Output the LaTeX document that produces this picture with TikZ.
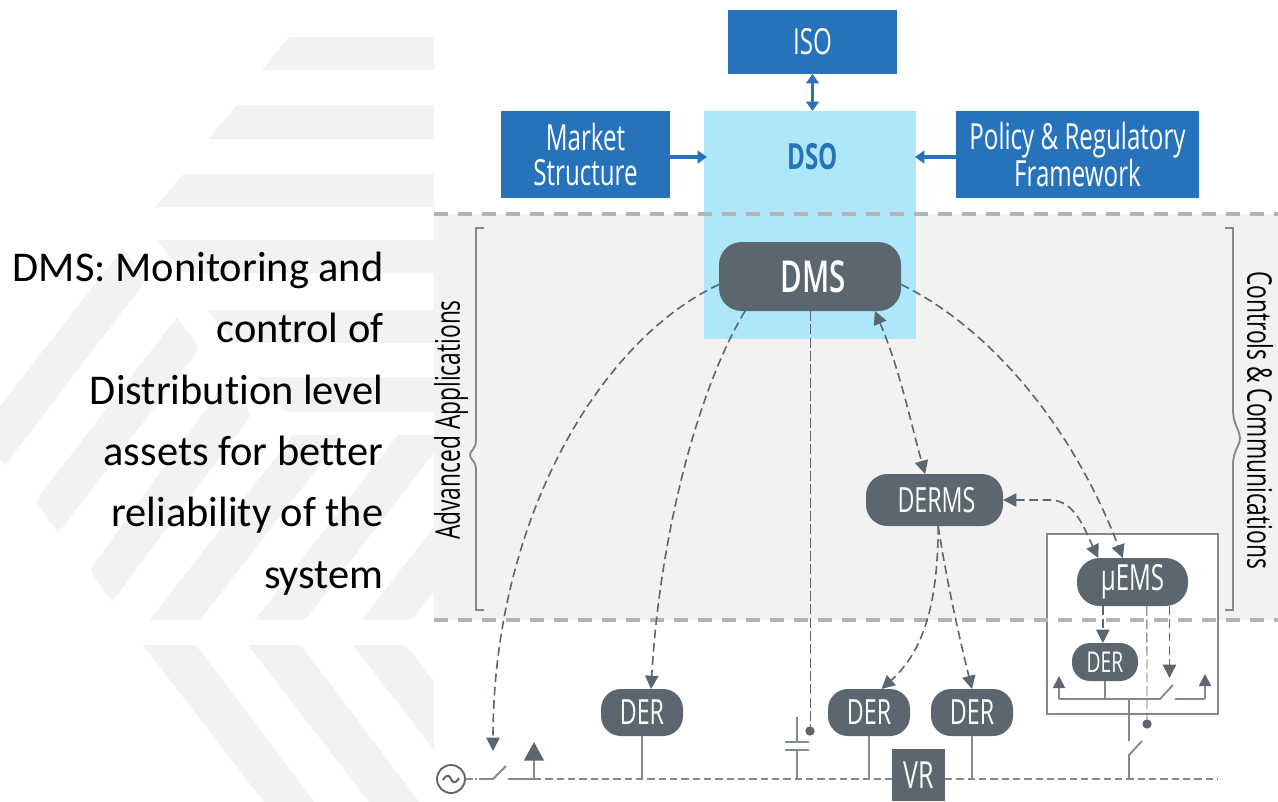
\documentclass[tikz,border=0pt]{standalone}
\usepackage{fontspec}
\usetikzlibrary{arrows.meta,calc}
\setmainfont{Open Sans}
\newfontfamily\leftfont[Ligatures=NoCommon]{Carlito}
\newfontfamily\cond[FakeStretch=0.67]{Open Sans}
\newfontfamily\condb[FakeStretch=0.67]{Open Sans Semibold}
\definecolor{slate}{HTML}{5C6670}
\definecolor{wire}{HTML}{7F8A93}
\definecolor{brand}{HTML}{2673BC}
\definecolor{sky}{HTML}{AEE7FA}
\definecolor{stripe}{HTML}{F2F2F2}
\definecolor{sep}{HTML}{B3B3B3}
\tikzset{
 x=0.75pt,y=-0.75pt,
 every node/.style={inner sep=0pt,outer sep=0pt},
 stripeshape/.style={fill=stripe,draw=none},
 bluebox/.style={fill=brand,draw=none,text=white,align=center,font=\cond\fontsize{27}{26}\selectfont},
 pill/.style={fill=slate,draw=none,text=white,align=center,font=\cond\fontsize{26}{26}\selectfont},
 bigpill/.style={pill,minimum width=136.5pt,minimum height=51.75pt,rounded corners=17pt,font=\condb\fontsize{33}{30}\selectfont},
 derpill/.style={pill,minimum width=61.5pt,minimum height=35.25pt,rounded corners=15pt},
 dashlink/.style={draw=slate,line width=1.2pt,dash pattern=on 6.5pt off 3.5pt,-{Triangle[length=10pt,width=10pt]}},
 duallink/.style={dashlink,{Triangle[length=10pt,width=10pt]}-{Triangle[length=10pt,width=10pt]}},
 thinlink/.style={draw=slate,line width=0.7pt,dash pattern=on 7.5pt off 2.5pt},
 bluelink/.style={draw=brand,line width=2.3pt,-{Triangle[length=7pt,width=9.5pt]}},
 wireline/.style={draw=wire,line width=1.4pt},
 upflow/.style={wireline,-{Triangle[length=14pt,width=15pt,color=slate]}},
 busline/.style={wireline,dash pattern=on 5.5pt off 3pt},
 sepline/.style={draw=sep,line width=3pt,dash pattern=on 10.5pt off 7.5pt},
 dotnode/.style={circle,fill=slate,minimum size=7pt},
 sidelabel/.style={font=\cond\fontsize{25.5}{27}\selectfont,text=black},
}
\begin{document}
\begin{tikzpicture}
\useasboundingbox (0,0) rectangle (1278,801);
\fill[white] (0,0) rectangle (1278,801);
% background stripes
\begin{scope}
\clip (0,0) rectangle (434,801);
\path[stripeshape] (262,70) -- (284,43) .. controls (289,37) .. (296,37) -- (460,37) -- (460,70) -- cycle;
\path[stripeshape] (208,139) -- (232,111) .. controls (237,105) .. (244,105) -- (460,105) -- (460,139) -- cycle;
\path[stripeshape] (156,207) -- (178,180) .. controls (183,174) .. (190,174) -- (460,174) -- (460,207) -- cycle;
\path[stripeshape] (157,240) -- (460,240) -- (460,273) -- (190,273) .. controls (183,273) .. (178,267) -- cycle;
\path[stripeshape] (208,310) -- (460,310) -- (460,343) -- (241,343) .. controls (234,343) .. (229,337) -- cycle;
\path[stripeshape] (258,377) -- (460,377) -- (460,412) -- (292,412) .. controls (285,412) .. (280,406) -- cycle;
\path[stripeshape] (123,248) -- (141,273) .. controls (146,280) .. (141,287) -- (5,465) -- (-20,432) -- cycle;
\path[stripeshape] (177,317) -- (195,342) .. controls (199,349) .. (194,356) -- (58,533) -- (40,508) .. controls (36,501) .. (41,494) -- cycle;
\path[stripeshape] (226,381) -- (247,408) .. controls (251,415) .. (246,422) -- (112,602) -- (94,577) .. controls (90,570) .. (95,563) -- cycle;
\path[stripeshape] (150,620) -- (190,620) .. controls (200,620) .. (207,611) -- (335,445) .. controls (342,435) .. (330,435) -- (293,435) -- cycle;
\path[stripeshape] (255,620) -- (295,620) .. controls (305,620) .. (312,611) -- (440,445) .. controls (447,435) .. (435,435) -- (398,435) -- cycle;
\path[stripeshape] (362,620) -- (402,620) .. controls (412,620) .. (419,611) -- (547,445) .. controls (554,435) .. (542,435) -- (505,435) -- cycle;
\path[stripeshape] (143,645) -- (186,645) .. controls (196,645) .. (202,653) -- (324,815) -- (274,815) -- cycle;
\path[stripeshape] (248,645) -- (291,645) .. controls (301,645) .. (307,653) -- (429,815) -- (379,815) -- cycle;
\path[stripeshape] (353,645) -- (396,645) .. controls (406,645) .. (412,653) -- (534,815) -- (484,815) -- cycle;
\end{scope}
% left text
\node[font=\leftfont\fontsize{31.8}{46}\selectfont,align=right,anchor=north east] (desc) at (383.5,252)
 {DMS: Monitoring and\\control of\\Distribution level\\assets for better\\reliability of the\\system};
% band
\fill[stripe] (434,214) rectangle (1278,620);
\node[fill=sky,minimum width=159pt,minimum height=171pt] (dso) at (810,225) {};
\node[font=\cond\bfseries\fontsize{27}{26}\selectfont,text=brand] (dsolabel) at (813,157) {DSO};
% blue boxes
\node[bluebox,minimum width=126.75pt,minimum height=48pt] (iso) at (812.5,42) {ISO};
\node[bluebox,minimum width=126.75pt,minimum height=65.25pt] (market) at (585.5,154.5) {Market\\Structure};
\node[bluebox,minimum width=182.25pt,minimum height=65.25pt] (policy) at (1077.5,154.5) {Policy \& Regulatory\\Framework};
\draw[bluelink,{Triangle[length=7pt,width=9.5pt]}-{Triangle[length=7pt,width=9.5pt]}] (iso.south) -- (iso.south |- dso.north);
\draw[bluelink] ($(market.east)+(0,2.5)$) -- ($(dso.west |- market.east)+(3,2.5)$);
\draw[bluelink] ($(policy.west)+(0,2.5)$) -- ($(dso.east |- policy.west)+(-1,2.5)$);
% micro-grid frame
\node[fill=white,draw=wire,line width=1.5pt,minimum width=128pt,minimum height=135pt] (frame) at (1132.5,624) {};
% brackets
\draw[wireline] (484,228) -- (476,228) -- (476,440) .. controls (476,450) and (470,450) .. (470,455) .. controls (470,460) and (476,460) .. (476,470) -- (476,610) -- (484,610);
\draw[wireline] (1225,228) -- (1233,228) -- (1233,410) .. controls (1233,425) and (1240,430) .. (1240,438) .. controls (1240,446) and (1233,450) .. (1233,465) -- (1233,610) -- (1225,610);
\node[sidelabel,rotate=90] (advanced) at (451,420) {Advanced Applications};
\node[sidelabel,rotate=-90] (controls) at (1260,420) {Controls \& Communications};
% separators
\draw[sepline] (434,214) -- (1278,214);
\draw[sepline] (434,620) -- (1278,620);
% pills
\node[bigpill] (dms) at (810,276.5) {\hspace*{4.5pt}DMS};
\node[pill,minimum width=102.75pt,minimum height=39pt,rounded corners=16pt] (derms) at (934.5,500) {\hspace*{3pt}DERMS};
\node[pill,minimum width=83.25pt,minimum height=36pt,rounded corners=17pt,font=\cond\fontsize{27}{26}\selectfont] (uems) at (1132.5,582) {µEMS};
\node[pill,minimum width=49.5pt,minimum height=28.5pt,rounded corners=13.5pt,font=\cond\fontsize{21.5}{22}\selectfont] (uder) at (1105,662) {DER};
\node[derpill] (der1) at (642,712.5) {DER};
\node[derpill] (der2) at (869,712.5) {DER};
\node[derpill] (der3) at (972,712.5) {DER};
\node[bluebox,fill=slate,minimum width=39.75pt,minimum height=39pt,font=\cond\fontsize{28}{26}\selectfont] (vr) at (918.5,775) {VR};
\node[draw=slate,line width=1.4pt,circle,minimum size=21pt] (source) at (451,779) {};
\draw[slate,line width=1.5pt] ($(source)+(-8,1)$) .. controls ($(source)+(-4,-6)$) and ($(source)+(-1,-3)$) .. (source.center) .. controls ($(source)+(1,3)$) and ($(source)+(4,6)$) .. ($(source)+(8,-1)$);
\node[dotnode] (capdot) at (810,731) {};
\node[dotnode] (swdot) at (1147,724) {};
% bus junctions
\coordinate (swa) at (493,779);
\coordinate (swb) at (506,766);
\coordinate (swc) at (508,779);
\coordinate (upa) at (534,779);
\coordinate (busend) at (1218,779);
\coordinate (switchtip) at (493,751);
\coordinate (upatip) at (534,742);
% bus
\draw[wireline,dash pattern=on 6pt off 1.5pt on 1.5pt off 1.5pt] (source.east) -- (482,779);
\draw[wireline] (482,779) -- (swa) -- (swb);
\draw[wireline] (swc) -- (upa);
\draw[upflow] (upa) -- (upatip);
\draw[busline] (upa) -- (vr.west |- upa);
\draw[busline] (vr.east |- upa) -- (busend);
% risers
\draw[wireline] (der1.south) -- (der1.south |- upa);
\draw[wireline] (der2.south) -- (der2.south |- upa);
\draw[wireline] (der3.south) -- (der3.south |- upa);
% capacitor
\coordinate (capa) at (797,779);
\coordinate (capb) at (797,750);
\coordinate (capc) at (797,742);
\coordinate (capd) at (797,717);
\draw[wireline] (capa) -- (capb) (capc) -- (capd);
\draw[wireline] (785,750) -- (809,750) (785,742) -- (809,742);
% micro-grid wiring
\coordinate (ua) at (1059,699);
\coordinate (ub) at (1160,699);
\coordinate (uc) at (1173,685);
\coordinate (ud) at (1175,699);
\coordinate (ue) at (1205,699);
\coordinate (uatip) at (1059,676);
\coordinate (uetip) at (1205,674);
\coordinate (va) at (1129,699);
\coordinate (vb) at (1129,741);
\coordinate (vc) at (1142,741);
\coordinate (vd) at (1129,755);
\coordinate (ve) at (1129,779);
\draw[wireline] (ua) -- (ub) -- (uc);
\draw[wireline] (ud) -- (ue);
\draw[wireline,-{Triangle[length=9pt,width=9pt,color=slate]}] (ua) -- (uatip);
\draw[wireline,-{Triangle[length=9pt,width=9pt,color=slate]}] (ue) -- (uetip);
\draw[wireline] (uder.south) -- (uder.south |- ua);
\draw[wireline] (va) -- (vb) (vc) -- (vd) -- (ve);
% DMS links
\draw[dashlink] (dms.185) .. controls (600,340) and (493,520) .. (switchtip);
\draw[dashlink] (dms.208) .. controls (700,385) and (660,530) .. (der1.north -| 651,0);
\draw[thinlink] (dms.south) -- (capdot.center);
\draw[duallink] (dms.332) .. controls (900,370) and (910,420) .. (derms.110);
\draw[dashlink] (dms.355) .. controls (985,325) and (1070,420) .. (uems.112);
% DERMS links
\draw[duallink] (derms.east) -- (1050,500) .. controls (1075,500) and (1085,530) .. (uems.145);
\draw[dashlink] (derms.278) .. controls (938,600) and (925,650) .. (der2.62);
\draw[dashlink] (derms.278) .. controls (945,570) and (955,620) .. (der3.north);
% uEMS links
\draw[dashlink] (uems.219) -- (uems.219 |- uder.north);
\draw[thinlink] (uems.301) -- (swdot.center);
\draw[dashlink] (uems.327) -- (uems.327 |- 0,678);
\end{tikzpicture}
\end{document}
